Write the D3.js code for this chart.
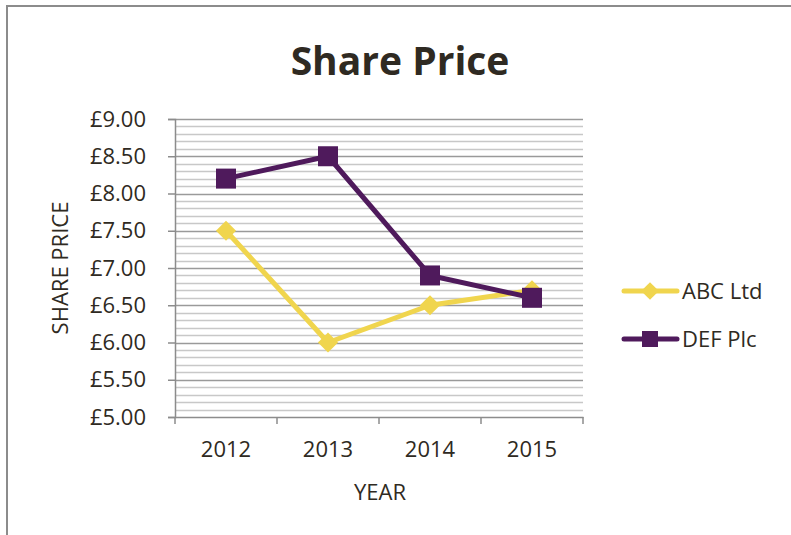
<!DOCTYPE html>
<html lang="en">
<head>
    <meta charset="UTF-8">
    <title>Share Price</title>
    <script src="https://d3js.org/d3.v7.min.js"></script>
    <style>
        body { margin: 0; background: #fff; }
        text { font-family: "Open Sans", "Noto Sans", sans-serif; fill: #2f2a22; }
    </style>
</head>
<body>
    <div id="chart"></div>
    <script>
        // Data
        var years = ["2012", "2013", "2014", "2015"];
        var abcLtd = [7.50, 6.00, 6.50, 6.70];
        var defPlc = [8.20, 8.50, 6.90, 6.60];
        var seriesNames = ["ABC Ltd", "DEF Plc"];
        var seriesColors = ["#f0d54e", "#4f1a5c"];

        var width = 791, height = 535;
        var plot = {left: 175, right: 583, top: 119, bottom: 417};

        var svg = d3.select("#chart").append("svg")
            .attr("width", width)
            .attr("height", height);

        // outer chart border
        svg.append("rect")
            .attr("x", 7).attr("y", 6)
            .attr("width", width + 20).attr("height", height + 20)
            .attr("fill", "none")
            .attr("stroke", "#8c8c8c")
            .attr("stroke-width", 2);

        var x = d3.scaleBand().domain(years).range([plot.left, plot.right]);
        var y = d3.scaleLinear().domain([5, 9]).range([plot.bottom, plot.top]);

        // minor gridlines every 0.1
        var minor = d3.range(51, 90).filter(function(d) { return d % 5 !== 0; })
            .map(function(d) { return d / 10; });
        svg.append("g").selectAll("line")
            .data(minor)
            .enter().append("line")
            .attr("x1", plot.left).attr("x2", plot.right)
            .attr("y1", function(d) { return Math.round(y(d)) + 0.5; })
            .attr("y2", function(d) { return Math.round(y(d)) + 0.5; })
            .attr("stroke", "#c8c8c8").attr("stroke-width", 1.5);

        // major gridlines every 0.5
        var major = d3.range(5.5, 9.01, 0.5);
        svg.append("g").selectAll("line")
            .data(major)
            .enter().append("line")
            .attr("x1", plot.left).attr("x2", plot.right)
            .attr("y1", function(d) { return Math.round(y(d)) + 0.5; })
            .attr("y2", function(d) { return Math.round(y(d)) + 0.5; })
            .attr("stroke", "#9a9a9a").attr("stroke-width", 1.5);

        // y axis
        var yAxis = svg.append("g")
            .attr("transform", "translate(" + plot.left + ",0)")
            .call(d3.axisLeft(y).tickValues(d3.range(5, 9.01, 0.5))
                .tickFormat(function(d) { return "£" + d.toFixed(2); })
                .tickSize(7).tickPadding(22));
        yAxis.select(".domain").attr("stroke", "#8c8c8c").attr("stroke-width", 1.5);
        yAxis.selectAll(".tick line").attr("stroke", "#8c8c8c").attr("stroke-width", 1.5);
        yAxis.selectAll(".tick text").style("font-size", "22px").attr("fill", "#2f2a22");

        // x axis
        var xAxis = svg.append("g")
            .attr("transform", "translate(0," + plot.bottom + ")")
            .call(d3.axisBottom(x).tickSize(0).tickPadding(24));
        xAxis.select(".domain").attr("stroke", "#8c8c8c").attr("stroke-width", 1.5);
        xAxis.selectAll(".tick text").style("font-size", "22px").attr("fill", "#2f2a22");
        // category boundary ticks
        var bounds = years.map(function(d) { return x(d); }).concat([x.range()[1]]);
        xAxis.selectAll(".bound").data(bounds).enter().append("line")
            .attr("x1", function(d) { return d; }).attr("x2", function(d) { return d; })
            .attr("y1", 0).attr("y2", 7)
            .attr("stroke", "#8c8c8c").attr("stroke-width", 1.5);

        var line = d3.line()
            .x(function(d, i) { return x(years[i]) + x.bandwidth() / 2; })
            .y(function(d) { return y(d); });

        var data = [abcLtd, defPlc];
        var diamond = d3.symbol().type(d3.symbolDiamond2).size(260);

        data.forEach(function(vals, s) {
            svg.append("path")
                .datum(vals)
                .attr("d", line)
                .attr("fill", "none")
                .attr("stroke", seriesColors[s])
                .attr("stroke-width", 5)
                .attr("stroke-linejoin", "round");
            var g = svg.append("g");
            vals.forEach(function(v, i) {
                var cx = x(years[i]) + x.bandwidth() / 2, cy = y(v);
                if (s === 0) {
                    g.append("path").attr("d", diamond)
                        .attr("transform", "translate(" + cx + "," + cy + ")")
                        .attr("fill", seriesColors[s]);
                } else {
                    g.append("rect")
                        .attr("x", cx - 10).attr("y", cy - 10)
                        .attr("width", 20).attr("height", 20)
                        .attr("fill", seriesColors[s]);
                }
            });
        });

        // title
        svg.append("text")
            .attr("x", 400).attr("y", 75)
            .attr("text-anchor", "middle")
            .style("font-size", "39px").style("font-weight", "bold")
            .text("Share Price");

        // axis titles
        svg.append("text")
            .attr("transform", "translate(68,268) rotate(-90)")
            .attr("text-anchor", "middle")
            .style("font-size", "22px")
            .text("SHARE PRICE");
        svg.append("text")
            .attr("x", 380).attr("y", 500)
            .attr("text-anchor", "middle")
            .style("font-size", "22px")
            .text("YEAR");

        // legend
        var legend = svg.append("g");
        seriesNames.forEach(function(name, i) {
            var ly = 291 + i * 48;
            legend.append("line")
                .attr("x1", 624).attr("x2", 677)
                .attr("y1", ly).attr("y2", ly)
                .attr("stroke", seriesColors[i]).attr("stroke-width", 5)
                .attr("stroke-linecap", "round");
            if (i === 0) {
                legend.append("path").attr("d", d3.symbol().type(d3.symbolDiamond2).size(200))
                    .attr("transform", "translate(650," + ly + ")")
                    .attr("fill", seriesColors[i]);
            } else {
                legend.append("rect")
                    .attr("x", 642).attr("y", ly - 8)
                    .attr("width", 16).attr("height", 16)
                    .attr("fill", seriesColors[i]);
            }
            legend.append("text")
                .attr("x", 682).attr("y", ly + 8)
                .style("font-size", "22px")
                .text(name);
        });
    </script>
</body>
</html>
